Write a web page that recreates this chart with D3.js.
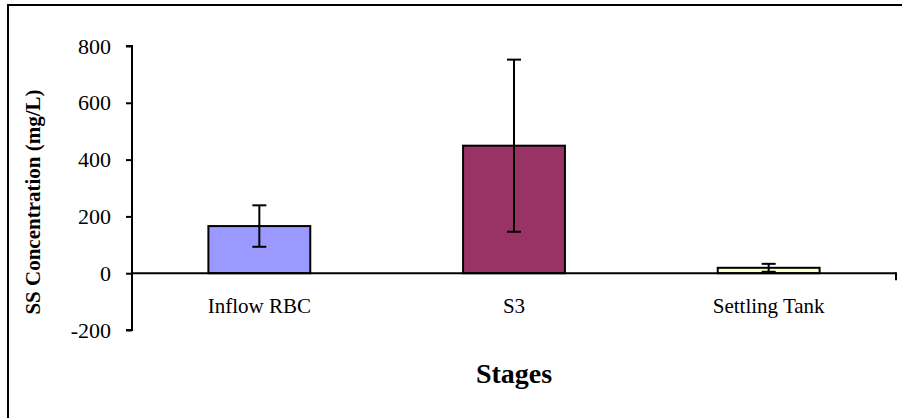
<!DOCTYPE html>
<html>
<head>
<meta charset="utf-8">
<script src="https://cdn.jsdelivr.net/npm/d3@7"></script>
<style>
  html, body { margin: 0; padding: 0; background: #fff; }
  svg { display: block; }
  text { font-family: "Liberation Serif", "Times New Roman", serif; fill: #000; }
</style>
</head>
<body>
<svg id="chart" width="902" height="418"></svg>
<script>
const categories = ["Inflow RBC", "S3", "Settling Tank"];
const means = [166, 449, 19];
const errors = [73, 303, 14];
const colors = ["#9999FF", "#993366", "#FFFFCC"];
const yTicks = [-200, 0, 200, 400, 600, 800];
const yLabel = "SS Concentration (mg/L)";
const xLabel = "Stages";

const serif = "'Liberation Serif', 'Times New Roman', serif";
const svg = d3.select("#chart");

// outer chart border (right and bottom run off the canvas)
svg.append("rect")
  .attr("x", 8).attr("y", 5)
  .attr("width", 910).attr("height", 430)
  .attr("fill", "none").attr("stroke", "#000").attr("stroke-width", 2);

const pLeft = 132, pRight = 896, pTop = 46, pBottom = 330;

const x = d3.scaleBand().domain(categories).range([pLeft, pRight]).padding(0);
const y = d3.scaleLinear().domain([-200, 800]).range([pBottom, pTop]);

const barW = x.bandwidth() * 0.4;

// y axis
const yAxis = d3.axisLeft(y).tickValues(yTicks).tickSize(6).tickPadding(15)
  .tickFormat(d => String(d));
const gy = svg.append("g").attr("transform", `translate(${pLeft},0)`).call(yAxis);
gy.select(".domain").attr("stroke", "#000").attr("stroke-width", 2)
  .attr("d", `M-6,${y(800)}H0V${y(-200)}H-6`);
gy.selectAll(".tick line").attr("stroke", "#000").attr("stroke-width", 2);
gy.selectAll(".tick text")
  .style("font-family", serif)
  .style("font-size", "22px")
  .style("fill", "#000");

// bars
const data = categories.map((c, i) => ({ c, m: means[i], e: errors[i], col: colors[i] }));
svg.append("g").selectAll("rect").data(data).join("rect")
  .attr("x", d => x(d.c) + x.bandwidth() / 2 - barW / 2)
  .attr("y", d => y(Math.max(0, d.m)))
  .attr("width", barW)
  .attr("height", d => Math.abs(y(d.m) - y(0)))
  .attr("fill", d => d.col)
  .attr("stroke", "#000").attr("stroke-width", 2);

// x axis (at zero)
const gx = svg.append("g").attr("transform", `translate(0,${y(0)})`);
gx.append("line").attr("x1", pLeft).attr("x2", pRight).attr("y1", 0).attr("y2", 0)
  .attr("stroke", "#000").attr("stroke-width", 2);
gx.append("line").attr("x1", pRight).attr("x2", pRight).attr("y1", -1).attr("y2", 7)
  .attr("stroke", "#000").attr("stroke-width", 2);
gx.selectAll("text").data(categories).join("text")
  .attr("x", d => x(d) + x.bandwidth() / 2)
  .attr("y", 40)
  .attr("text-anchor", "middle")
  .style("font-family", serif)
  .style("font-size", "21px")
  .text(d => d);

// error bars
const eg = svg.append("g").attr("stroke", "#000").attr("stroke-width", 2);
data.forEach(d => {
  const cx = x(d.c) + x.bandwidth() / 2;
  eg.append("line").attr("x1", cx).attr("x2", cx).attr("y1", y(d.m + d.e)).attr("y2", y(d.m - d.e));
  eg.append("line").attr("x1", cx - 7).attr("x2", cx + 7).attr("y1", y(d.m + d.e)).attr("y2", y(d.m + d.e));
  eg.append("line").attr("x1", cx - 7).attr("x2", cx + 7).attr("y1", y(d.m - d.e)).attr("y2", y(d.m - d.e));
});

// axis titles
svg.append("text")
  .attr("transform", `translate(40,${(pTop + pBottom) / 2 + 14}) rotate(-90)`)
  .attr("text-anchor", "middle")
  .style("font-family", serif)
  .style("font-size", "21px").style("font-weight", "bold")
  .text(yLabel);

svg.append("text")
  .attr("x", (pLeft + pRight) / 2)
  .attr("y", 383)
  .attr("text-anchor", "middle")
  .style("font-family", serif)
  .style("font-size", "28px").style("font-weight", "bold")
  .text(xLabel);
</script>
</body>
</html>
